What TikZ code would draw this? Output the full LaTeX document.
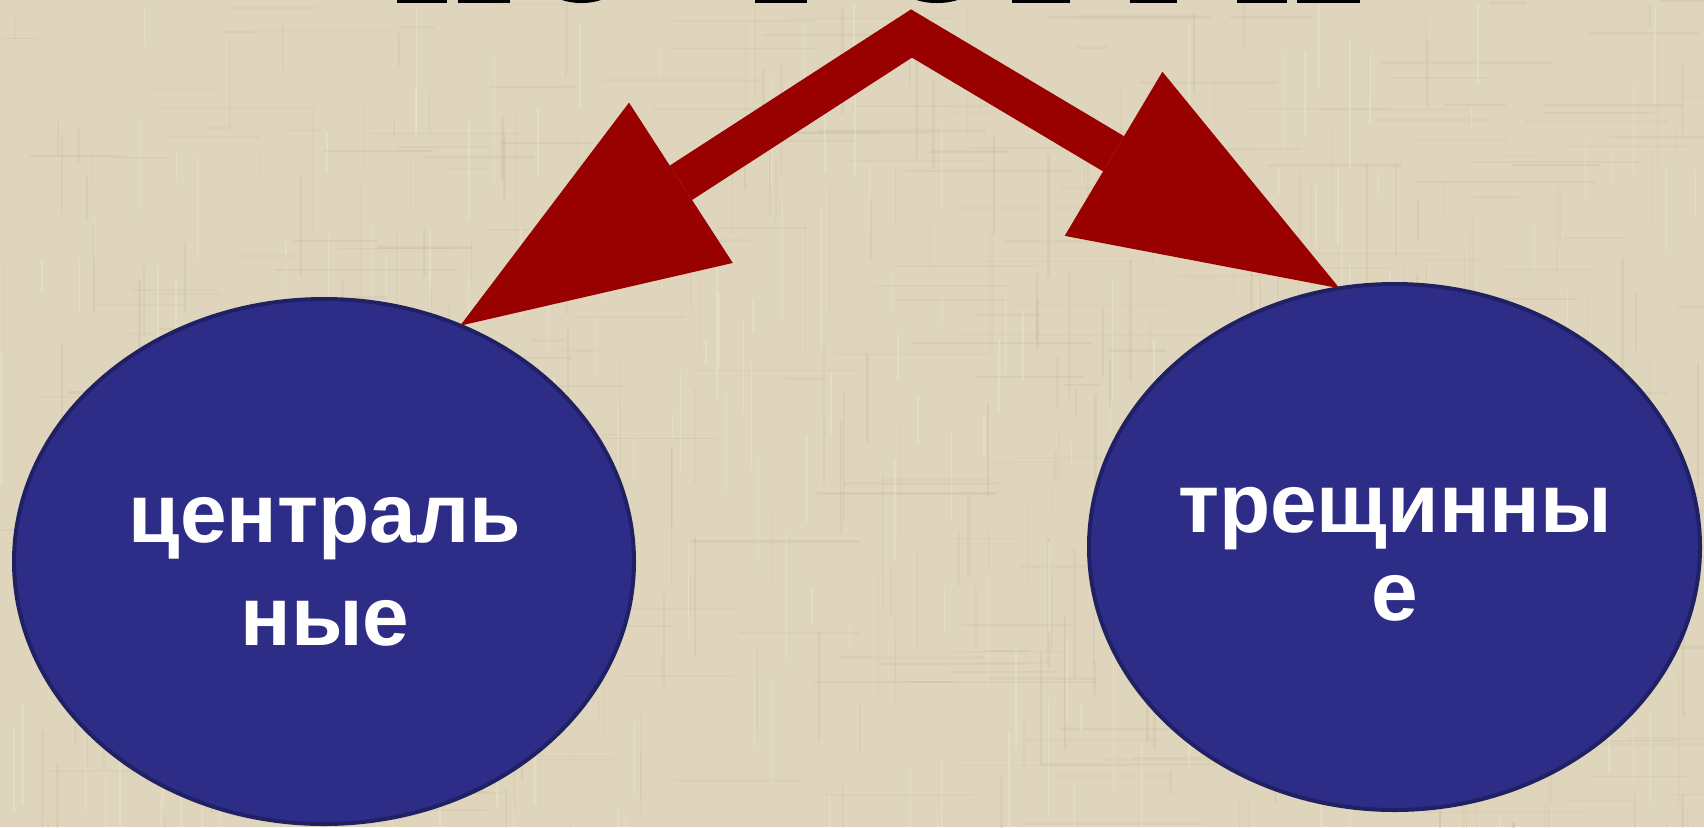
\documentclass[tikz,border=0pt]{standalone}
\usepackage{fontspec}
\setmainfont{Liberation Sans}
\usetikzlibrary{shapes.geometric,arrows.meta}
\definecolor{bgbeige}{RGB}{223,213,188}
\definecolor{bgdark}{RGB}{190,178,150}
\definecolor{bglight}{RGB}{238,231,212}
\definecolor{ovalfill}{RGB}{45,45,136}
\definecolor{ovaldraw}{RGB}{32,32,100}
\definecolor{arrowred}{RGB}{153,0,0}
\tikzset{
  oval/.style={ellipse, fill=ovalfill, draw=ovaldraw, line width=2pt, inner sep=0pt, outer sep=0pt},
  ovaltext/.style={text=white, font=\bfseries\fontsize{41.9pt}{50pt}\selectfont, inner sep=0pt, anchor=base},
  bigarrow/.style={draw=arrowred, line width=20.5pt, line join=miter,
    arrows={Triangle[length=131.5pt,width=95.5pt,line width=0pt]-Triangle[length=131.5pt,width=95.5pt,line width=0pt]}},
  sliver/.style={fill=black, draw=none}
}
\begin{document}
\begin{tikzpicture}[x=0.5pt, y=-0.5pt]
\useasboundingbox (0,0) rectangle (1704,827);
\clip (0,0) rectangle (1704,827);
% background linen
\fill[bgbeige] (0,0) rectangle (1704,827);
\pgfmathsetseed{4217}
\foreach \i in {1,...,320}{
  \pgfmathsetmacro\xx{rnd*1704}
  \pgfmathsetmacro\ww{0.5+rnd*1.0}
  \pgfmathsetmacro\op{0.08+rnd*0.16}
  \pgfmathsetmacro\yy{rnd*827}
  \pgfmathsetmacro\ll{20+rnd*120}
  \draw[bgdark, line width=\ww pt, opacity=\op] (\xx,\yy) -- (\xx,\yy+\ll);
}
\foreach \i in {1,...,260}{
  \pgfmathsetmacro\yy{rnd*827}
  \pgfmathsetmacro\ww{0.5+rnd*1.0}
  \pgfmathsetmacro\op{0.08+rnd*0.16}
  \pgfmathsetmacro\xx{rnd*1704}
  \pgfmathsetmacro\ll{30+rnd*160}
  \draw[bgdark, line width=\ww pt, opacity=\op] (\xx,\yy) -- (\xx+\ll,\yy);
}
\foreach \i in {1,...,220}{
  \pgfmathsetmacro\xx{rnd*1704}
  \pgfmathsetmacro\yy{rnd*827}
  \pgfmathsetmacro\ll{20+rnd*120}
  \draw[bglight, line width=0.7pt, opacity=0.4] (\xx,\yy) -- (\xx,\yy+\ll);
}
% bottoms of the cropped heading letters
\fill[sliver] (397,0) rectangle (447,2.5);
\fill[sliver] (458,0) rectangle (510,2.5);
\fill[sliver] (581.5,-8) ellipse [x radius=28.5, y radius=11];
\fill[sliver] (755,0) rectangle (807,2.5);
\fill[sliver] (937,-8) ellipse [x radius=30, y radius=11];
\fill[sliver] (1012,0) rectangle (1070,2.5);
\fill[sliver] (1130,0) rectangle (1177,2.5);
\fill[sliver] (1237,0) rectangle (1287,2.5);
\fill[sliver] (1297,0) rectangle (1360,2.5);
% ovals
\node[oval, minimum width=310pt, minimum height=262.5pt] (L) at (324,561.5) {};
\node[oval, minimum width=305.5pt, minimum height=263pt] (R) at (1394.5,547) {};
\node[ovaltext] (L1) at (325,542) {централь};
\node[ovaltext] (L2) at (325,645) {ные};
\node[ovaltext] (R1) at (1395,532) {трещинны};
\node[ovaltext] (R2) at (1395,620) {е};
% arrows
\coordinate (apex) at (911.5,33.5);
\draw[bigarrow] (L.60) -- (apex) -- (R.102);
\end{tikzpicture}
\end{document}
